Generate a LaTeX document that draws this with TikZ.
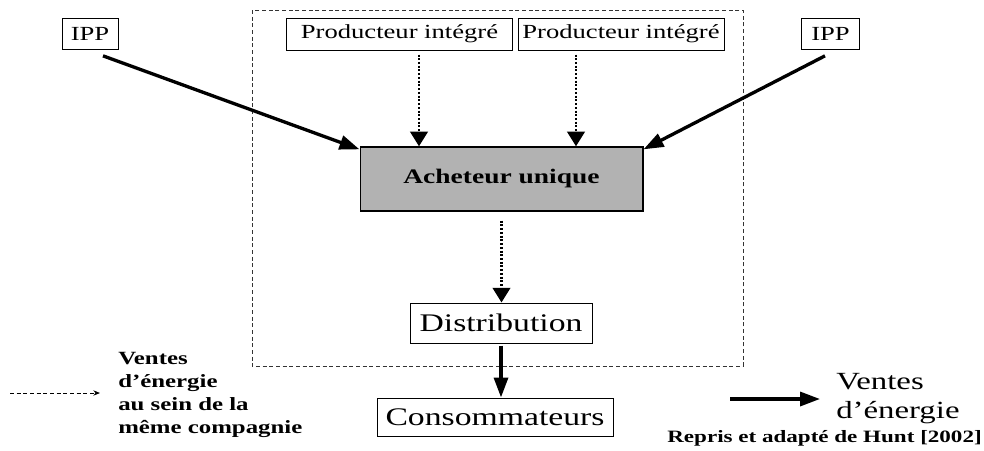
\documentclass[tikz,border=0pt]{standalone}
\usepackage{fontspec}
\setmainfont{Liberation Serif}[FakeStretch=1.33]
\usetikzlibrary{arrows.meta}

\begin{document}
\begin{tikzpicture}[x=0.75pt,y=-0.75pt,inner sep=0pt,
	box/.style={draw,line width=0.75pt,font=\fontsize{15}{18}\selectfont,minimum height=23pt},
	bigbox/.style={draw,line width=0.75pt,font=\fontsize{19}{22}\selectfont}]
	\useasboundingbox (0,0) rectangle (984,450);
	\tikzset{plain/.style={-{Triangle[length=15pt,width=10.5pt]},line width=2.5pt}}
	\tikzset{dotarrow/.style={-{Triangle[length=11pt,width=13pt]},line width=2.2pt,dash pattern=on 1.5pt off 1.3pt}}
	\draw[black!80,line width=0.6pt,dash pattern=on 3pt off 2pt] (252,10) rectangle (743,366);
	\node[box,minimum width=42pt] (ippA) at (90,34) {IPP};
	\node[box,minimum width=43pt] (ippB) at (830.5,34) {IPP};
	\node[box,minimum width=169pt,minimum height=24pt] (prodA) at (399.5,34) {Producteur intégré};
	\node[box,minimum width=154.5pt,minimum height=24pt] (prodB) at (621,34) {Producteur intégré};
	\node[draw,line width=1pt,fill=black!30,font=\bfseries\fontsize{15.5}{18}\selectfont,
		minimum width=212pt,minimum height=48pt] (ach) at (501.5,179) {Acheteur unique};
	\node[bigbox,minimum width=136.5pt,minimum height=30pt] (dist) at (501,323) {Distribution};
	\node[bigbox,minimum width=177pt,minimum height=28.5pt] (cons) at (495,417) {Consommateurs};
	\draw[plain] ([shift={(13,6)}]ippA.south) -- ([shift={(0,3)}]ach.north west);
	\draw[plain] ([shift={(-5.5,6)}]ippB.south) -- ([shift={(0,3)}]ach.north east);
	\draw[dotarrow] ([shift={(19.5,4)}]prodA.south) -- ([shift={(-82.5,0)}]ach.north);
	\draw[dotarrow] ([shift={(-45,4)}]prodB.south) -- ([shift={(74.5,0)}]ach.north);
	\draw[dotarrow] ([shift={(0,9)}]ach.south) -- (ach.south |- dist.north);
	\draw[plain] ([shift={(0,2)}]dist.south) -- (dist.south |- cons.north);
	\coordinate (legA1) at (10,393);
	\coordinate (legA2) at (100,393);
	\draw[-{Stealth[length=5pt,width=4pt]},line width=0.7pt,dash pattern=on 3pt off 2pt] (legA1) -- (legA2);
	\node[anchor=north west,align=left,font=\bfseries\fontsize{14}{17.25}\selectfont] (legA) at (118,352)
		{Ventes\\d’énergie\\au sein de la\\même compagnie};
	\coordinate (legB1) at (730,399);
	\coordinate (legB2) at (820,399);
	\draw[plain] (legB1) -- (legB2);
	\node[anchor=north west,align=left,font=\fontsize{18.5}{21.75}\selectfont] (legB) at (836,373)
		{Ventes\\d’énergie};
	\node[anchor=base east,font=\bfseries\fontsize{13}{15}\selectfont] (src) at (982,442)
		{Repris et adapté de Hunt [2002]};
\end{tikzpicture}
\end{document}
